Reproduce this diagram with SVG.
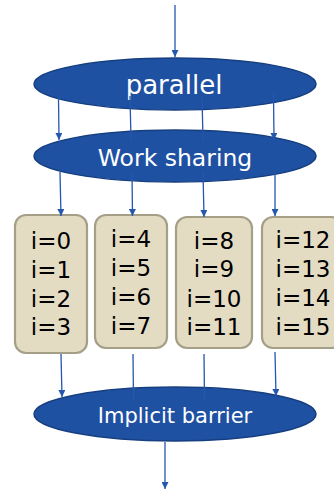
<svg xmlns="http://www.w3.org/2000/svg" width="334" height="490" viewBox="0 0 334 490">
  <defs>
    <marker id="arrow" viewBox="0 0 10 10" refX="10" refY="5" markerWidth="7" markerHeight="7" markerUnits="userSpaceOnUse" orient="auto">
      <path d="M0,0 L10,5 L0,10 z" fill="#2457ad"/>
    </marker>
    <style>
      .oval { fill: #1f51a3; stroke: #163f80; stroke-width: 1.5; }
      .oval-text { fill: #ffffff; font-family: "DejaVu Sans", Verdana, sans-serif; text-anchor: middle; }
      .box { fill: #e3dcc3; stroke: #a69f88; stroke-width: 2.2; }
      .box-text { fill: #000000; font-family: "DejaVu Sans", Verdana, sans-serif; font-size: 23px; text-anchor: middle; }
      .link { stroke: #2457ad; stroke-width: 1.3; fill: none; }
      .head { marker-end: url(#arrow); }
    </style>
  </defs>

  <!-- fork: parallel region -->
  <g id="parallel">
    <ellipse class="oval" cx="175" cy="84" rx="141" ry="26"/>
    <text class="oval-text" x="174" y="94" font-size="26">parallel</text>
  </g>

  <!-- work-sharing construct -->
  <g id="work-sharing">
    <ellipse class="oval" cx="175" cy="156" rx="141" ry="26"/>
    <text class="oval-text" x="175" y="166" font-size="23.5">Work sharing</text>
  </g>

  <!-- loop iterations per thread -->
  <g id="chunk-0">
    <rect class="box" x="15" y="215" width="72" height="138" rx="11"/>
    <text class="box-text" x="51" y="249">i=0</text>
    <text class="box-text" x="51" y="278">i=1</text>
    <text class="box-text" x="51" y="307">i=2</text>
    <text class="box-text" x="51" y="335">i=3</text>
  </g>
  <g id="chunk-1">
    <rect class="box" x="95" y="215" width="72" height="133" rx="11"/>
    <text class="box-text" x="131" y="247">i=4</text>
    <text class="box-text" x="131" y="276">i=5</text>
    <text class="box-text" x="131" y="305">i=6</text>
    <text class="box-text" x="131" y="334">i=7</text>
  </g>
  <g id="chunk-2">
    <rect class="box" x="176" y="217" width="76" height="131" rx="11"/>
    <text class="box-text" x="214" y="249">i=8</text>
    <text class="box-text" x="214" y="277">i=9</text>
    <text class="box-text" x="214" y="307">i=10</text>
    <text class="box-text" x="214" y="335">i=11</text>
  </g>
  <g id="chunk-3">
    <rect class="box" x="262" y="217" width="80" height="131" rx="11"/>
    <text class="box-text" x="303" y="248">i=12</text>
    <text class="box-text" x="303" y="277">i=13</text>
    <text class="box-text" x="303" y="306">i=14</text>
    <text class="box-text" x="303" y="335">i=15</text>
  </g>

  <!-- join -->
  <g id="implicit-barrier">
    <ellipse class="oval" cx="175" cy="414" rx="141" ry="27"/>
    <text class="oval-text" x="175" y="423" font-size="21">Implicit barrier</text>
  </g>

  <!-- control flow -->
  <g id="connectors">
    <line class="link head" x1="175" y1="5" x2="175" y2="57"/>

    <line class="link head" x1="58.5" y1="97" x2="59" y2="140"/>
    <line class="link" x1="130" y1="96" x2="131" y2="140"/>
    <line class="link" x1="202" y1="96" x2="203" y2="140"/>
    <line class="link head" x1="273.5" y1="93" x2="274" y2="140"/>

    <line class="link head" x1="60" y1="172" x2="61" y2="216"/>
    <line class="link head" x1="132" y1="172" x2="132.5" y2="216"/>
    <line class="link head" x1="203" y1="172" x2="204" y2="217"/>
    <line class="link head" x1="275" y1="172" x2="275" y2="216"/>

    <line class="link head" x1="61" y1="354" x2="62" y2="397"/>
    <line class="link" x1="133" y1="354" x2="133.5" y2="400"/>
    <line class="link" x1="204" y1="354" x2="204.5" y2="400"/>
    <line class="link head" x1="275" y1="352" x2="276" y2="396"/>

    <line class="link head" x1="165" y1="442" x2="165" y2="489"/>
  </g>
</svg>
